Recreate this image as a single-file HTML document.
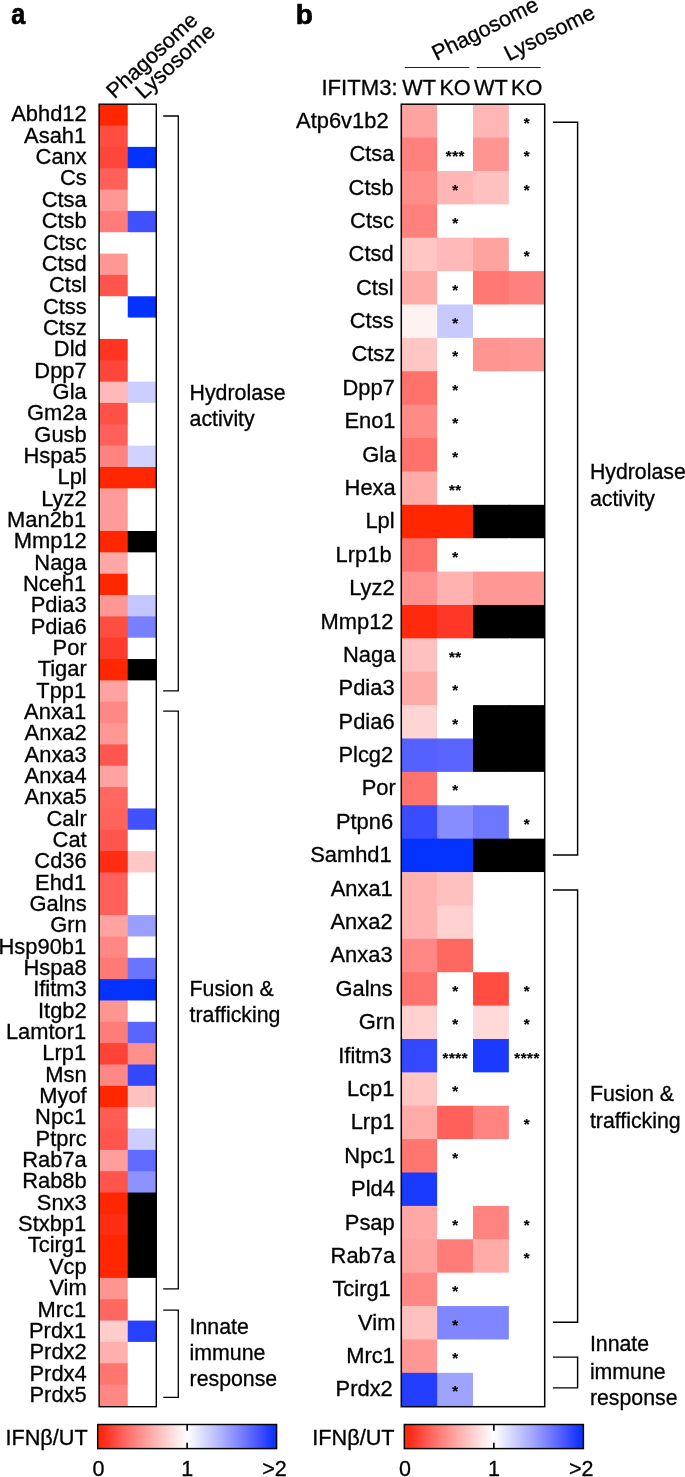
<!DOCTYPE html>
<html><head><meta charset="utf-8"><title>Figure</title>
<style>html,body{margin:0;padding:0;background:#fff}svg{display:block}text{font-family:"Liberation Sans",Arial,Helvetica,sans-serif;fill:#000;stroke:#000;stroke-width:0.3px}.l{font-size:21.1px}.r{font-size:21.9px;text-anchor:end}.s{font-size:15px;font-weight:bold;text-anchor:middle;letter-spacing:0.6px;stroke-width:0.2px}.p{font-size:28px;font-weight:bold;stroke-width:0.7px}.m{font-size:21.5px;text-anchor:middle}.k{stroke:#000;stroke-width:1.3;fill:none}</style></head><body>
<svg width="685" height="1477" viewBox="0 0 685 1477">
<defs><linearGradient id="g" x1="0" x2="1" y1="0" y2="0">
<stop offset="0.0000" stop-color="#ff2600"/>
<stop offset="0.0208" stop-color="#ff290b"/>
<stop offset="0.0417" stop-color="#ff311c"/>
<stop offset="0.0625" stop-color="#ff3a2b"/>
<stop offset="0.0833" stop-color="#ff4438"/>
<stop offset="0.1042" stop-color="#ff4f45"/>
<stop offset="0.1250" stop-color="#ff5951"/>
<stop offset="0.1458" stop-color="#ff645d"/>
<stop offset="0.1667" stop-color="#ff6e68"/>
<stop offset="0.1875" stop-color="#ff7873"/>
<stop offset="0.2083" stop-color="#ff827d"/>
<stop offset="0.2292" stop-color="#ff8b88"/>
<stop offset="0.2500" stop-color="#ff9592"/>
<stop offset="0.2708" stop-color="#ff9f9c"/>
<stop offset="0.2917" stop-color="#ffa8a6"/>
<stop offset="0.3125" stop-color="#ffb1af"/>
<stop offset="0.3333" stop-color="#ffbab8"/>
<stop offset="0.3542" stop-color="#ffc3c2"/>
<stop offset="0.3750" stop-color="#ffcccb"/>
<stop offset="0.3958" stop-color="#ffd5d4"/>
<stop offset="0.4167" stop-color="#ffdddd"/>
<stop offset="0.4375" stop-color="#ffe6e5"/>
<stop offset="0.4583" stop-color="#ffeeee"/>
<stop offset="0.4792" stop-color="#fff7f7"/>
<stop offset="0.5000" stop-color="#ffffff"/>
<stop offset="0.5208" stop-color="#f7f7ff"/>
<stop offset="0.5417" stop-color="#eeefff"/>
<stop offset="0.5625" stop-color="#e5e6ff"/>
<stop offset="0.5833" stop-color="#dddeff"/>
<stop offset="0.6042" stop-color="#d4d5ff"/>
<stop offset="0.6250" stop-color="#cbcdff"/>
<stop offset="0.6458" stop-color="#c2c4ff"/>
<stop offset="0.6667" stop-color="#b9bbff"/>
<stop offset="0.6875" stop-color="#afb3ff"/>
<stop offset="0.7083" stop-color="#a6aaff"/>
<stop offset="0.7292" stop-color="#9ca0ff"/>
<stop offset="0.7500" stop-color="#9297ff"/>
<stop offset="0.7708" stop-color="#888eff"/>
<stop offset="0.7917" stop-color="#7e85ff"/>
<stop offset="0.8125" stop-color="#737bff"/>
<stop offset="0.8333" stop-color="#6872ff"/>
<stop offset="0.8542" stop-color="#5d68ff"/>
<stop offset="0.8750" stop-color="#525eff"/>
<stop offset="0.8958" stop-color="#4655ff"/>
<stop offset="0.9167" stop-color="#394cff"/>
<stop offset="0.9375" stop-color="#2c43ff"/>
<stop offset="0.9583" stop-color="#1d3bff"/>
<stop offset="0.9792" stop-color="#0e36ff"/>
<stop offset="1.0000" stop-color="#0433ff"/>
</linearGradient></defs>
<rect width="685" height="1477" fill="#fff"/>
<text class="p" transform="translate(11.2,23.6) scale(0.9,1.03)">a</text>
<rect x="99.10" y="104.20" width="29.65" height="22.34" fill="#ff2600"/>
<rect x="127.75" y="104.20" width="28.55" height="22.34" fill="#ffffff"/>
<rect x="99.10" y="125.54" width="29.65" height="22.34" fill="#ff4d42"/>
<rect x="127.75" y="125.54" width="28.55" height="22.34" fill="#ffffff"/>
<rect x="99.10" y="146.88" width="29.65" height="22.34" fill="#ff463b"/>
<rect x="127.75" y="146.88" width="28.55" height="22.34" fill="#0433ff"/>
<rect x="99.10" y="168.22" width="29.65" height="22.34" fill="#ff6059"/>
<rect x="127.75" y="168.22" width="28.55" height="22.34" fill="#ffffff"/>
<rect x="99.10" y="189.56" width="29.65" height="22.34" fill="#ff9794"/>
<rect x="127.75" y="189.56" width="28.55" height="22.34" fill="#ffffff"/>
<rect x="99.10" y="210.90" width="29.65" height="22.34" fill="#ff7c78"/>
<rect x="127.75" y="210.90" width="28.55" height="22.34" fill="#4051ff"/>
<rect x="99.10" y="232.24" width="29.65" height="22.34" fill="#ffffff"/>
<rect x="127.75" y="232.24" width="28.55" height="22.34" fill="#ffffff"/>
<rect x="99.10" y="253.58" width="29.65" height="22.34" fill="#ff9794"/>
<rect x="127.75" y="253.58" width="28.55" height="22.34" fill="#ffffff"/>
<rect x="99.10" y="274.92" width="29.65" height="22.34" fill="#ff554c"/>
<rect x="127.75" y="274.92" width="28.55" height="22.34" fill="#ffffff"/>
<rect x="99.10" y="296.26" width="29.65" height="22.34" fill="#ffffff"/>
<rect x="127.75" y="296.26" width="28.55" height="22.34" fill="#0433ff"/>
<rect x="99.10" y="317.60" width="29.65" height="22.34" fill="#ffffff"/>
<rect x="127.75" y="317.60" width="28.55" height="22.34" fill="#ffffff"/>
<rect x="99.10" y="338.94" width="29.65" height="22.34" fill="#ff3421"/>
<rect x="127.75" y="338.94" width="28.55" height="22.34" fill="#ffffff"/>
<rect x="99.10" y="360.28" width="29.65" height="22.34" fill="#ff463b"/>
<rect x="127.75" y="360.28" width="28.55" height="22.34" fill="#ffffff"/>
<rect x="99.10" y="381.62" width="29.65" height="22.34" fill="#ffb9b8"/>
<rect x="127.75" y="381.62" width="28.55" height="22.34" fill="#ccceff"/>
<rect x="99.10" y="402.96" width="29.65" height="22.34" fill="#ff5147"/>
<rect x="127.75" y="402.96" width="28.55" height="22.34" fill="#ffffff"/>
<rect x="99.10" y="424.30" width="29.65" height="22.34" fill="#ff6059"/>
<rect x="127.75" y="424.30" width="28.55" height="22.34" fill="#ffffff"/>
<rect x="99.10" y="445.64" width="29.65" height="22.34" fill="#ff8480"/>
<rect x="127.75" y="445.64" width="28.55" height="22.34" fill="#d1d3ff"/>
<rect x="99.10" y="466.98" width="29.65" height="22.34" fill="#ff2600"/>
<rect x="127.75" y="466.98" width="28.55" height="22.34" fill="#ff2600"/>
<rect x="99.10" y="488.32" width="29.65" height="22.34" fill="#ff9c99"/>
<rect x="127.75" y="488.32" width="28.55" height="22.34" fill="#ffffff"/>
<rect x="99.10" y="509.66" width="29.65" height="22.34" fill="#ff9c99"/>
<rect x="127.75" y="509.66" width="28.55" height="22.34" fill="#ffffff"/>
<rect x="99.10" y="531.00" width="29.65" height="22.34" fill="#ff2600"/>
<rect x="127.75" y="531.00" width="28.55" height="22.34" fill="#000000"/>
<rect x="99.10" y="552.34" width="29.65" height="22.34" fill="#ffa8a6"/>
<rect x="127.75" y="552.34" width="28.55" height="22.34" fill="#ffffff"/>
<rect x="99.10" y="573.68" width="29.65" height="22.34" fill="#ff2600"/>
<rect x="127.75" y="573.68" width="28.55" height="22.34" fill="#ffffff"/>
<rect x="99.10" y="595.02" width="29.65" height="22.34" fill="#ff9794"/>
<rect x="127.75" y="595.02" width="28.55" height="22.34" fill="#c4c7ff"/>
<rect x="99.10" y="616.36" width="29.65" height="22.34" fill="#ff4d42"/>
<rect x="127.75" y="616.36" width="28.55" height="22.34" fill="#7880ff"/>
<rect x="99.10" y="637.70" width="29.65" height="22.34" fill="#ff3b2b"/>
<rect x="127.75" y="637.70" width="28.55" height="22.34" fill="#ffffff"/>
<rect x="99.10" y="659.04" width="29.65" height="22.34" fill="#ff2600"/>
<rect x="127.75" y="659.04" width="28.55" height="22.34" fill="#000000"/>
<rect x="99.10" y="680.38" width="29.65" height="22.34" fill="#ffa3a1"/>
<rect x="127.75" y="680.38" width="28.55" height="22.34" fill="#ffffff"/>
<rect x="99.10" y="701.72" width="29.65" height="22.34" fill="#ff8885"/>
<rect x="127.75" y="701.72" width="28.55" height="22.34" fill="#ffffff"/>
<rect x="99.10" y="723.06" width="29.65" height="22.34" fill="#ff9794"/>
<rect x="127.75" y="723.06" width="28.55" height="22.34" fill="#ffffff"/>
<rect x="99.10" y="744.40" width="29.65" height="22.34" fill="#ff574f"/>
<rect x="127.75" y="744.40" width="28.55" height="22.34" fill="#ffffff"/>
<rect x="99.10" y="765.74" width="29.65" height="22.34" fill="#ffa3a1"/>
<rect x="127.75" y="765.74" width="28.55" height="22.34" fill="#ffffff"/>
<rect x="99.10" y="787.08" width="29.65" height="22.34" fill="#ff6761"/>
<rect x="127.75" y="787.08" width="28.55" height="22.34" fill="#ffffff"/>
<rect x="99.10" y="808.42" width="29.65" height="22.34" fill="#ff635c"/>
<rect x="127.75" y="808.42" width="28.55" height="22.34" fill="#4051ff"/>
<rect x="99.10" y="829.76" width="29.65" height="22.34" fill="#ff554c"/>
<rect x="127.75" y="829.76" width="28.55" height="22.34" fill="#ffffff"/>
<rect x="99.10" y="851.10" width="29.65" height="22.34" fill="#ff2d14"/>
<rect x="127.75" y="851.10" width="28.55" height="22.34" fill="#ffc8c7"/>
<rect x="99.10" y="872.44" width="29.65" height="22.34" fill="#ff6059"/>
<rect x="127.75" y="872.44" width="28.55" height="22.34" fill="#ffffff"/>
<rect x="99.10" y="893.78" width="29.65" height="22.34" fill="#ff6059"/>
<rect x="127.75" y="893.78" width="28.55" height="22.34" fill="#ffffff"/>
<rect x="99.10" y="915.12" width="29.65" height="22.34" fill="#ffa3a1"/>
<rect x="127.75" y="915.12" width="28.55" height="22.34" fill="#999eff"/>
<rect x="99.10" y="936.46" width="29.65" height="22.34" fill="#ff8885"/>
<rect x="127.75" y="936.46" width="28.55" height="22.34" fill="#ffffff"/>
<rect x="99.10" y="957.80" width="29.65" height="22.34" fill="#ff7a75"/>
<rect x="127.75" y="957.80" width="28.55" height="22.34" fill="#6b74ff"/>
<rect x="99.10" y="979.14" width="29.65" height="22.34" fill="#0433ff"/>
<rect x="127.75" y="979.14" width="28.55" height="22.34" fill="#0433ff"/>
<rect x="99.10" y="1000.48" width="29.65" height="22.34" fill="#ff9591"/>
<rect x="127.75" y="1000.48" width="28.55" height="22.34" fill="#ffffff"/>
<rect x="99.10" y="1021.82" width="29.65" height="22.34" fill="#ff7c78"/>
<rect x="127.75" y="1021.82" width="28.55" height="22.34" fill="#5a65ff"/>
<rect x="99.10" y="1043.16" width="29.65" height="22.34" fill="#ff4236"/>
<rect x="127.75" y="1043.16" width="28.55" height="22.34" fill="#ff908c"/>
<rect x="99.10" y="1064.50" width="29.65" height="22.34" fill="#ff8885"/>
<rect x="127.75" y="1064.50" width="28.55" height="22.34" fill="#3448ff"/>
<rect x="99.10" y="1085.84" width="29.65" height="22.34" fill="#ff2600"/>
<rect x="127.75" y="1085.84" width="28.55" height="22.34" fill="#ffc1bf"/>
<rect x="99.10" y="1107.18" width="29.65" height="22.34" fill="#ff5c54"/>
<rect x="127.75" y="1107.18" width="28.55" height="22.34" fill="#ffffff"/>
<rect x="99.10" y="1128.52" width="29.65" height="22.34" fill="#ff554c"/>
<rect x="127.75" y="1128.52" width="28.55" height="22.34" fill="#ccceff"/>
<rect x="99.10" y="1149.86" width="29.65" height="22.34" fill="#ff9e9c"/>
<rect x="127.75" y="1149.86" width="28.55" height="22.34" fill="#616bff"/>
<rect x="99.10" y="1171.20" width="29.65" height="22.34" fill="#ff554c"/>
<rect x="127.75" y="1171.20" width="28.55" height="22.34" fill="#8c92ff"/>
<rect x="99.10" y="1192.54" width="29.65" height="22.34" fill="#ff2600"/>
<rect x="127.75" y="1192.54" width="28.55" height="22.34" fill="#000000"/>
<rect x="99.10" y="1213.88" width="29.65" height="22.34" fill="#ff2d14"/>
<rect x="127.75" y="1213.88" width="28.55" height="22.34" fill="#000000"/>
<rect x="99.10" y="1235.22" width="29.65" height="22.34" fill="#ff2600"/>
<rect x="127.75" y="1235.22" width="28.55" height="22.34" fill="#000000"/>
<rect x="99.10" y="1256.56" width="29.65" height="22.34" fill="#ff2600"/>
<rect x="127.75" y="1256.56" width="28.55" height="22.34" fill="#000000"/>
<rect x="99.10" y="1277.90" width="29.65" height="22.34" fill="#ff9591"/>
<rect x="127.75" y="1277.90" width="28.55" height="22.34" fill="#ffffff"/>
<rect x="99.10" y="1299.24" width="29.65" height="22.34" fill="#ff6761"/>
<rect x="127.75" y="1299.24" width="28.55" height="22.34" fill="#ffffff"/>
<rect x="99.10" y="1320.58" width="29.65" height="22.34" fill="#ffcdcc"/>
<rect x="127.75" y="1320.58" width="28.55" height="22.34" fill="#2841ff"/>
<rect x="99.10" y="1341.92" width="29.65" height="22.34" fill="#ffafad"/>
<rect x="127.75" y="1341.92" width="28.55" height="22.34" fill="#ffffff"/>
<rect x="99.10" y="1363.26" width="29.65" height="22.34" fill="#ff7570"/>
<rect x="127.75" y="1363.26" width="28.55" height="22.34" fill="#ffffff"/>
<rect x="99.10" y="1384.60" width="29.65" height="22.10" fill="#ff8885"/>
<rect x="127.75" y="1384.60" width="28.55" height="22.10" fill="#ffffff"/>
<rect class="k" style="stroke-width:1.4" x="99.10" y="104.20" width="57.20" height="1302.50"/>
<text class="r" x="86.7" y="121.47">Abhd12</text>
<text class="r" x="86.2" y="142.81">Asah1</text>
<text class="r" x="86.7" y="164.15">Canx</text>
<text class="r" x="86.7" y="185.49">Cs</text>
<text class="r" x="86.7" y="206.83">Ctsa</text>
<text class="r" x="86.7" y="228.17">Ctsb</text>
<text class="r" x="86.7" y="249.51">Ctsc</text>
<text class="r" x="86.7" y="270.85">Ctsd</text>
<text class="r" x="86.7" y="292.19">Ctsl</text>
<text class="r" x="86.7" y="313.53">Ctss</text>
<text class="r" x="86.7" y="334.87">Ctsz</text>
<text class="r" x="86.7" y="356.21">Dld</text>
<text class="r" x="86.7" y="377.55">Dpp7</text>
<text class="r" x="86.7" y="398.89">Gla</text>
<text class="r" x="86.7" y="420.23">Gm2a</text>
<text class="r" x="86.7" y="441.57">Gusb</text>
<text class="r" x="86.7" y="462.91">Hspa5</text>
<text class="r" x="86.7" y="484.25">Lpl</text>
<text class="r" x="86.7" y="505.59">Lyz2</text>
<text class="r" x="86.2" y="526.93">Man2b1</text>
<text class="r" x="86.7" y="548.27">Mmp12</text>
<text class="r" x="86.7" y="569.61">Naga</text>
<text class="r" x="86.2" y="590.95">Nceh1</text>
<text class="r" x="86.7" y="612.29">Pdia3</text>
<text class="r" x="86.7" y="633.63">Pdia6</text>
<text class="r" x="86.7" y="654.97">Por</text>
<text class="r" x="86.7" y="676.31">Tigar</text>
<text class="r" x="86.2" y="697.65">Tpp1</text>
<text class="r" x="86.2" y="718.99">Anxa1</text>
<text class="r" x="86.7" y="740.33">Anxa2</text>
<text class="r" x="86.7" y="761.67">Anxa3</text>
<text class="r" x="86.7" y="783.01">Anxa4</text>
<text class="r" x="86.7" y="804.35">Anxa5</text>
<text class="r" x="86.7" y="825.69">Calr</text>
<text class="r" x="86.7" y="847.03">Cat</text>
<text class="r" x="86.7" y="868.37">Cd36</text>
<text class="r" x="86.2" y="889.71">Ehd1</text>
<text class="r" x="86.7" y="911.05">Galns</text>
<text class="r" x="86.7" y="932.39">Grn</text>
<text class="r" x="86.2" y="953.73">Hsp90b1</text>
<text class="r" x="86.7" y="975.07">Hspa8</text>
<text class="r" x="86.7" y="996.41">Ifitm3</text>
<text class="r" x="86.7" y="1017.75">Itgb2</text>
<text class="r" x="86.2" y="1039.09">Lamtor1</text>
<text class="r" x="86.2" y="1060.43">Lrp1</text>
<text class="r" x="86.7" y="1081.77">Msn</text>
<text class="r" x="86.7" y="1103.11">Myof</text>
<text class="r" x="86.2" y="1124.45">Npc1</text>
<text class="r" x="86.7" y="1145.79">Ptprc</text>
<text class="r" x="86.7" y="1167.13">Rab7a</text>
<text class="r" x="86.7" y="1188.47">Rab8b</text>
<text class="r" x="86.7" y="1209.81">Snx3</text>
<text class="r" x="86.2" y="1231.15">Stxbp1</text>
<text class="r" x="86.2" y="1252.49">Tcirg1</text>
<text class="r" x="86.7" y="1273.83">Vcp</text>
<text class="r" x="86.7" y="1295.17">Vim</text>
<text class="r" x="86.2" y="1316.51">Mrc1</text>
<text class="r" x="86.2" y="1337.85">Prdx1</text>
<text class="r" x="86.7" y="1359.19">Prdx2</text>
<text class="r" x="86.7" y="1380.53">Prdx4</text>
<text class="r" x="86.7" y="1401.87">Prdx5</text>
<path class="k" style="stroke-width:1.3" d="M163.20 116.00H178.30V690.90H163.20"/>
<path class="k" style="stroke-width:1.3" d="M163.20 711.10H178.30V1288.90H163.20"/>
<path class="k" style="stroke-width:1.3" d="M163.20 1310.10H178.30V1397.40H163.20"/>
<text class="l" style="font-size:21.5px" transform="translate(114.5,99.5) rotate(-42.5)">Phagosome</text>
<text class="l" style="font-size:21.9px" transform="translate(143.5,100) rotate(-42.5)">Lysosome</text>
<text class="l" style="font-size:21.3px" x="189.6" y="399.9">Hydrolase</text>
<text class="l" style="font-size:21.3px" x="189.6" y="425.7">activity</text>
<text class="l" style="font-size:21.3px" x="189.6" y="995.7">Fusion &amp;</text>
<text class="l" style="font-size:21.3px" x="189.6" y="1021.5">trafficking</text>
<text class="l" style="font-size:21.3px" x="189.6" y="1334.4">Innate</text>
<text class="l" style="font-size:21.3px" x="189.6" y="1360.0">immune</text>
<text class="l" style="font-size:21.3px" x="189.6" y="1385.7">response</text>
<rect x="97.70" y="1424.5" width="178.90" height="24.1" fill="url(#g)"/>
<rect class="k" style="stroke-width:1.45" x="97.70" y="1424.5" width="178.90" height="24.1"/>
<path d="M187.15 1424.5V1430.7M187.15 1442.7V1448.6" stroke="#000" stroke-width="1.6" fill="none"/>
<text class="r" style="font-size:21.7px" x="87.8" y="1444.7">IFNβ/UT</text>
<text class="m" x="98.5" y="1475.6">0</text>
<text class="m" x="187.2" y="1475.6">1</text>
<text class="m" x="274.4" y="1475.6">&gt;2</text>
<text class="p" x="295.8" y="23.6">b</text>
<rect x="401.30" y="104.20" width="36.85" height="34.38" fill="#ffa3a1"/>
<rect x="437.15" y="104.20" width="36.85" height="34.38" fill="#ffffff"/>
<rect x="473.00" y="104.20" width="36.85" height="34.38" fill="#ffb7b5"/>
<rect x="508.85" y="104.20" width="35.85" height="34.38" fill="#ffffff"/>
<rect x="401.30" y="137.59" width="36.85" height="34.38" fill="#ff817d"/>
<rect x="437.15" y="137.59" width="36.85" height="34.38" fill="#ffffff"/>
<rect x="473.00" y="137.59" width="36.85" height="34.38" fill="#ff9591"/>
<rect x="508.85" y="137.59" width="35.85" height="34.38" fill="#ffffff"/>
<rect x="401.30" y="170.97" width="36.85" height="34.38" fill="#ff8d8a"/>
<rect x="437.15" y="170.97" width="36.85" height="34.38" fill="#ffb7b5"/>
<rect x="473.00" y="170.97" width="36.85" height="34.38" fill="#ffc1bf"/>
<rect x="508.85" y="170.97" width="35.85" height="34.38" fill="#ffffff"/>
<rect x="401.30" y="204.36" width="36.85" height="34.38" fill="#ff817d"/>
<rect x="437.15" y="204.36" width="36.85" height="34.38" fill="#ffffff"/>
<rect x="473.00" y="204.36" width="36.85" height="34.38" fill="#ffffff"/>
<rect x="508.85" y="204.36" width="35.85" height="34.38" fill="#ffffff"/>
<rect x="401.30" y="237.74" width="36.85" height="34.38" fill="#ffc6c4"/>
<rect x="437.15" y="237.74" width="36.85" height="34.38" fill="#ffb9b8"/>
<rect x="473.00" y="237.74" width="36.85" height="34.38" fill="#ffa3a1"/>
<rect x="508.85" y="237.74" width="35.85" height="34.38" fill="#ffffff"/>
<rect x="401.30" y="271.12" width="36.85" height="34.38" fill="#ffaba8"/>
<rect x="437.15" y="271.12" width="36.85" height="34.38" fill="#ffffff"/>
<rect x="473.00" y="271.12" width="36.85" height="34.38" fill="#ff7873"/>
<rect x="508.85" y="271.12" width="35.85" height="34.38" fill="#ff817d"/>
<rect x="401.30" y="304.51" width="36.85" height="34.38" fill="#fff3f2"/>
<rect x="437.15" y="304.51" width="36.85" height="34.38" fill="#c7c9ff"/>
<rect x="473.00" y="304.51" width="36.85" height="34.38" fill="#ffffff"/>
<rect x="508.85" y="304.51" width="35.85" height="34.38" fill="#ffffff"/>
<rect x="401.30" y="337.89" width="36.85" height="34.38" fill="#ffc6c4"/>
<rect x="437.15" y="337.89" width="36.85" height="34.38" fill="#ffffff"/>
<rect x="473.00" y="337.89" width="36.85" height="34.38" fill="#ff9591"/>
<rect x="508.85" y="337.89" width="35.85" height="34.38" fill="#ff9794"/>
<rect x="401.30" y="371.28" width="36.85" height="34.38" fill="#ff716b"/>
<rect x="437.15" y="371.28" width="36.85" height="34.38" fill="#ffffff"/>
<rect x="473.00" y="371.28" width="36.85" height="34.38" fill="#ffffff"/>
<rect x="508.85" y="371.28" width="35.85" height="34.38" fill="#ffffff"/>
<rect x="401.30" y="404.66" width="36.85" height="34.38" fill="#ff8b87"/>
<rect x="437.15" y="404.66" width="36.85" height="34.38" fill="#ffffff"/>
<rect x="473.00" y="404.66" width="36.85" height="34.38" fill="#ffffff"/>
<rect x="508.85" y="404.66" width="35.85" height="34.38" fill="#ffffff"/>
<rect x="401.30" y="438.05" width="36.85" height="34.38" fill="#ff716b"/>
<rect x="437.15" y="438.05" width="36.85" height="34.38" fill="#ffffff"/>
<rect x="473.00" y="438.05" width="36.85" height="34.38" fill="#ffffff"/>
<rect x="508.85" y="438.05" width="35.85" height="34.38" fill="#ffffff"/>
<rect x="401.30" y="471.43" width="36.85" height="34.38" fill="#ffaba8"/>
<rect x="437.15" y="471.43" width="36.85" height="34.38" fill="#ffffff"/>
<rect x="473.00" y="471.43" width="36.85" height="34.38" fill="#ffffff"/>
<rect x="508.85" y="471.43" width="35.85" height="34.38" fill="#ffffff"/>
<rect x="401.30" y="504.82" width="36.85" height="34.38" fill="#ff2600"/>
<rect x="437.15" y="504.82" width="36.85" height="34.38" fill="#ff2600"/>
<rect x="473.00" y="504.82" width="36.85" height="34.38" fill="#000000"/>
<rect x="508.85" y="504.82" width="35.85" height="34.38" fill="#000000"/>
<rect x="401.30" y="538.21" width="36.85" height="34.38" fill="#ff716b"/>
<rect x="437.15" y="538.21" width="36.85" height="34.38" fill="#ffffff"/>
<rect x="473.00" y="538.21" width="36.85" height="34.38" fill="#ffffff"/>
<rect x="508.85" y="538.21" width="35.85" height="34.38" fill="#ffffff"/>
<rect x="401.30" y="571.59" width="36.85" height="34.38" fill="#ff928f"/>
<rect x="437.15" y="571.59" width="36.85" height="34.38" fill="#ffb2b0"/>
<rect x="473.00" y="571.59" width="36.85" height="34.38" fill="#ff9794"/>
<rect x="508.85" y="571.59" width="35.85" height="34.38" fill="#ff9794"/>
<rect x="401.30" y="604.98" width="36.85" height="34.38" fill="#ff2a0d"/>
<rect x="437.15" y="604.98" width="36.85" height="34.38" fill="#ff3726"/>
<rect x="473.00" y="604.98" width="36.85" height="34.38" fill="#000000"/>
<rect x="508.85" y="604.98" width="35.85" height="34.38" fill="#000000"/>
<rect x="401.30" y="638.36" width="36.85" height="34.38" fill="#ffc1bf"/>
<rect x="437.15" y="638.36" width="36.85" height="34.38" fill="#ffffff"/>
<rect x="473.00" y="638.36" width="36.85" height="34.38" fill="#ffffff"/>
<rect x="508.85" y="638.36" width="35.85" height="34.38" fill="#ffffff"/>
<rect x="401.30" y="671.75" width="36.85" height="34.38" fill="#ffaba8"/>
<rect x="437.15" y="671.75" width="36.85" height="34.38" fill="#ffffff"/>
<rect x="473.00" y="671.75" width="36.85" height="34.38" fill="#ffffff"/>
<rect x="508.85" y="671.75" width="35.85" height="34.38" fill="#ffffff"/>
<rect x="401.30" y="705.13" width="36.85" height="34.38" fill="#ffd5d4"/>
<rect x="437.15" y="705.13" width="36.85" height="34.38" fill="#ffffff"/>
<rect x="473.00" y="705.13" width="36.85" height="34.38" fill="#000000"/>
<rect x="508.85" y="705.13" width="35.85" height="34.38" fill="#000000"/>
<rect x="401.30" y="738.51" width="36.85" height="34.38" fill="#5561ff"/>
<rect x="437.15" y="738.51" width="36.85" height="34.38" fill="#5a65ff"/>
<rect x="473.00" y="738.51" width="36.85" height="34.38" fill="#000000"/>
<rect x="508.85" y="738.51" width="35.85" height="34.38" fill="#000000"/>
<rect x="401.30" y="771.90" width="36.85" height="34.38" fill="#ff736e"/>
<rect x="437.15" y="771.90" width="36.85" height="34.38" fill="#ffffff"/>
<rect x="473.00" y="771.90" width="36.85" height="34.38" fill="#ffffff"/>
<rect x="508.85" y="771.90" width="35.85" height="34.38" fill="#ffffff"/>
<rect x="401.30" y="805.28" width="36.85" height="34.38" fill="#394cff"/>
<rect x="437.15" y="805.28" width="36.85" height="34.38" fill="#878dff"/>
<rect x="473.00" y="805.28" width="36.85" height="34.38" fill="#6e77ff"/>
<rect x="508.85" y="805.28" width="35.85" height="34.38" fill="#ffffff"/>
<rect x="401.30" y="838.67" width="36.85" height="34.38" fill="#0433ff"/>
<rect x="437.15" y="838.67" width="36.85" height="34.38" fill="#0433ff"/>
<rect x="473.00" y="838.67" width="36.85" height="34.38" fill="#000000"/>
<rect x="508.85" y="838.67" width="35.85" height="34.38" fill="#000000"/>
<rect x="401.30" y="872.05" width="36.85" height="34.38" fill="#ffb2b0"/>
<rect x="437.15" y="872.05" width="36.85" height="34.38" fill="#ffc1bf"/>
<rect x="473.00" y="872.05" width="36.85" height="34.38" fill="#ffffff"/>
<rect x="508.85" y="872.05" width="35.85" height="34.38" fill="#ffffff"/>
<rect x="401.30" y="905.44" width="36.85" height="34.38" fill="#ffb2b0"/>
<rect x="437.15" y="905.44" width="36.85" height="34.38" fill="#ffd2d1"/>
<rect x="473.00" y="905.44" width="36.85" height="34.38" fill="#ffffff"/>
<rect x="508.85" y="905.44" width="35.85" height="34.38" fill="#ffffff"/>
<rect x="401.30" y="938.83" width="36.85" height="34.38" fill="#ff8885"/>
<rect x="437.15" y="938.83" width="36.85" height="34.38" fill="#ff6761"/>
<rect x="473.00" y="938.83" width="36.85" height="34.38" fill="#ffffff"/>
<rect x="508.85" y="938.83" width="35.85" height="34.38" fill="#ffffff"/>
<rect x="401.30" y="972.21" width="36.85" height="34.38" fill="#ff736e"/>
<rect x="437.15" y="972.21" width="36.85" height="34.38" fill="#ffffff"/>
<rect x="473.00" y="972.21" width="36.85" height="34.38" fill="#ff4d42"/>
<rect x="508.85" y="972.21" width="35.85" height="34.38" fill="#ffffff"/>
<rect x="401.30" y="1005.60" width="36.85" height="34.38" fill="#ffd2d1"/>
<rect x="437.15" y="1005.60" width="36.85" height="34.38" fill="#ffffff"/>
<rect x="473.00" y="1005.60" width="36.85" height="34.38" fill="#ffdad9"/>
<rect x="508.85" y="1005.60" width="35.85" height="34.38" fill="#ffffff"/>
<rect x="401.30" y="1038.98" width="36.85" height="34.38" fill="#3448ff"/>
<rect x="437.15" y="1038.98" width="36.85" height="34.38" fill="#ffffff"/>
<rect x="473.00" y="1038.98" width="36.85" height="34.38" fill="#1b3aff"/>
<rect x="508.85" y="1038.98" width="35.85" height="34.38" fill="#ffffff"/>
<rect x="401.30" y="1072.37" width="36.85" height="34.38" fill="#ffc6c4"/>
<rect x="437.15" y="1072.37" width="36.85" height="34.38" fill="#ffffff"/>
<rect x="473.00" y="1072.37" width="36.85" height="34.38" fill="#ffffff"/>
<rect x="508.85" y="1072.37" width="35.85" height="34.38" fill="#ffffff"/>
<rect x="401.30" y="1105.75" width="36.85" height="34.38" fill="#ffaba8"/>
<rect x="437.15" y="1105.75" width="36.85" height="34.38" fill="#ff6059"/>
<rect x="473.00" y="1105.75" width="36.85" height="34.38" fill="#ff8480"/>
<rect x="508.85" y="1105.75" width="35.85" height="34.38" fill="#ffffff"/>
<rect x="401.30" y="1139.13" width="36.85" height="34.38" fill="#ff7570"/>
<rect x="437.15" y="1139.13" width="36.85" height="34.38" fill="#ffffff"/>
<rect x="473.00" y="1139.13" width="36.85" height="34.38" fill="#ffffff"/>
<rect x="508.85" y="1139.13" width="35.85" height="34.38" fill="#ffffff"/>
<rect x="401.30" y="1172.52" width="36.85" height="34.38" fill="#1b3aff"/>
<rect x="437.15" y="1172.52" width="36.85" height="34.38" fill="#ffffff"/>
<rect x="473.00" y="1172.52" width="36.85" height="34.38" fill="#ffffff"/>
<rect x="508.85" y="1172.52" width="35.85" height="34.38" fill="#ffffff"/>
<rect x="401.30" y="1205.90" width="36.85" height="34.38" fill="#ffa8a6"/>
<rect x="437.15" y="1205.90" width="36.85" height="34.38" fill="#ffffff"/>
<rect x="473.00" y="1205.90" width="36.85" height="34.38" fill="#ff8480"/>
<rect x="508.85" y="1205.90" width="35.85" height="34.38" fill="#ffffff"/>
<rect x="401.30" y="1239.29" width="36.85" height="34.38" fill="#ffa3a1"/>
<rect x="437.15" y="1239.29" width="36.85" height="34.38" fill="#ff7c78"/>
<rect x="473.00" y="1239.29" width="36.85" height="34.38" fill="#ffaba8"/>
<rect x="508.85" y="1239.29" width="35.85" height="34.38" fill="#ffffff"/>
<rect x="401.30" y="1272.67" width="36.85" height="34.38" fill="#ff8885"/>
<rect x="437.15" y="1272.67" width="36.85" height="34.38" fill="#ffffff"/>
<rect x="473.00" y="1272.67" width="36.85" height="34.38" fill="#ffffff"/>
<rect x="508.85" y="1272.67" width="35.85" height="34.38" fill="#ffffff"/>
<rect x="401.30" y="1306.06" width="36.85" height="34.38" fill="#ffc1bf"/>
<rect x="437.15" y="1306.06" width="36.85" height="34.38" fill="#8086ff"/>
<rect x="473.00" y="1306.06" width="36.85" height="34.38" fill="#8086ff"/>
<rect x="508.85" y="1306.06" width="35.85" height="34.38" fill="#ffffff"/>
<rect x="401.30" y="1339.44" width="36.85" height="34.38" fill="#ff9794"/>
<rect x="437.15" y="1339.44" width="36.85" height="34.38" fill="#ffffff"/>
<rect x="473.00" y="1339.44" width="36.85" height="34.38" fill="#ffffff"/>
<rect x="508.85" y="1339.44" width="35.85" height="34.38" fill="#ffffff"/>
<rect x="401.30" y="1372.83" width="36.85" height="33.87" fill="#233eff"/>
<rect x="437.15" y="1372.83" width="36.85" height="33.87" fill="#9ea3ff"/>
<rect x="473.00" y="1372.83" width="36.85" height="33.87" fill="#ffffff"/>
<rect x="508.85" y="1372.83" width="35.85" height="33.87" fill="#ffffff"/>
<rect class="k" style="stroke-width:1.5" x="401.30" y="104.20" width="143.40" height="1302.50"/>
<text class="r" x="388.6" y="128.49">Atp6v1b2</text>
<text class="s" x="527.08" y="127.79">*</text>
<text class="r" x="394.4" y="161.18">Ctsa</text>
<text class="s" x="455.38" y="161.18">***</text>
<text class="s" x="527.08" y="161.18">*</text>
<text class="r" x="393.6" y="194.56">Ctsb</text>
<text class="s" x="455.38" y="194.56">*</text>
<text class="s" x="527.08" y="194.56">*</text>
<text class="r" x="393.9" y="227.95">Ctsc</text>
<text class="s" x="455.38" y="227.95">*</text>
<text class="r" x="393.6" y="261.33">Ctsd</text>
<text class="s" x="527.08" y="261.33">*</text>
<text class="r" x="393.6" y="294.72">Ctsl</text>
<text class="s" x="455.38" y="294.72">*</text>
<text class="r" x="393.6" y="328.10">Ctss</text>
<text class="s" x="455.38" y="328.10">*</text>
<text class="r" x="395.2" y="361.49">Ctsz</text>
<text class="s" x="455.38" y="361.49">*</text>
<text class="r" x="394.8" y="394.87">Dpp7</text>
<text class="s" x="455.38" y="394.87">*</text>
<text class="r" x="395.5" y="428.26">Eno1</text>
<text class="s" x="455.38" y="428.26">*</text>
<text class="r" x="396.3" y="461.64">Gla</text>
<text class="s" x="455.38" y="461.64">*</text>
<text class="r" x="395.7" y="495.03">Hexa</text>
<text class="s" x="455.38" y="495.03">**</text>
<text class="r" x="394.6" y="528.41">Lpl</text>
<text class="r" x="391.6" y="561.80">Lrp1b</text>
<text class="s" x="455.38" y="561.80">*</text>
<text class="r" x="394.7" y="595.18">Lyz2</text>
<text class="r" x="393.5" y="628.57">Mmp12</text>
<text class="r" x="395.4" y="661.95">Naga</text>
<text class="s" x="455.38" y="661.95">**</text>
<text class="r" x="394.6" y="695.34">Pdia3</text>
<text class="s" x="455.38" y="695.34">*</text>
<text class="r" x="394.6" y="728.72">Pdia6</text>
<text class="s" x="455.38" y="728.72">*</text>
<text class="r" x="393.2" y="762.11">Plcg2</text>
<text class="r" x="395.8" y="795.49">Por</text>
<text class="s" x="455.38" y="795.49">*</text>
<text class="r" x="393.1" y="828.88">Ptpn6</text>
<text class="s" x="527.08" y="828.88">*</text>
<text class="r" x="391.7" y="862.26">Samhd1</text>
<text class="r" x="392.8" y="895.65">Anxa1</text>
<text class="r" x="392.6" y="929.03">Anxa2</text>
<text class="r" x="392.6" y="962.42">Anxa3</text>
<text class="r" x="392.7" y="995.80">Galns</text>
<text class="s" x="455.38" y="995.80">*</text>
<text class="s" x="527.08" y="995.80">*</text>
<text class="r" x="395.3" y="1029.19">Grn</text>
<text class="s" x="455.38" y="1029.19">*</text>
<text class="s" x="527.08" y="1029.19">*</text>
<text class="r" x="391.8" y="1062.57">Ifitm3</text>
<text class="s" x="455.38" y="1062.57">****</text>
<text class="s" x="527.08" y="1062.57">****</text>
<text class="r" x="394.4" y="1095.96">Lcp1</text>
<text class="s" x="455.38" y="1095.96">*</text>
<text class="r" x="394.5" y="1129.34">Lrp1</text>
<text class="s" x="527.08" y="1129.34">*</text>
<text class="r" x="395.3" y="1162.73">Npc1</text>
<text class="s" x="455.38" y="1162.73">*</text>
<text class="r" x="394.9" y="1196.11">Pld4</text>
<text class="r" x="394.7" y="1229.50">Psap</text>
<text class="s" x="455.38" y="1229.50">*</text>
<text class="s" x="527.08" y="1229.50">*</text>
<text class="r" x="395.1" y="1262.88">Rab7a</text>
<text class="s" x="527.08" y="1262.88">*</text>
<text class="r" x="390.8" y="1296.27">Tcirg1</text>
<text class="s" x="455.38" y="1296.27">*</text>
<text class="r" x="395.4" y="1329.65">Vim</text>
<text class="s" x="455.38" y="1329.65">*</text>
<text class="r" x="394.8" y="1363.04">Mrc1</text>
<text class="s" x="455.38" y="1363.04">*</text>
<text class="r" x="392.8" y="1396.42">Prdx2</text>
<text class="s" x="455.38" y="1396.42">*</text>
<path class="k" style="stroke-width:1.45" d="M552.90 122.30H577.60V855.00H552.90"/>
<path class="k" style="stroke-width:1.45" d="M552.90 889.90H577.60V1322.20H552.90"/>
<path class="k" style="stroke-width:1.45" d="M552.90 1357.10H577.60V1387.85H552.90"/>
<text class="r" style="font-size:22.1px" x="397.6" y="95.4">IFITM3:</text>
<text class="m" style="font-size:21.7px" x="419.23" y="95.4">WT</text>
<text class="m" style="font-size:21.7px" x="455.08" y="95.4">KO</text>
<text class="m" style="font-size:21.7px" x="490.93" y="95.4">WT</text>
<text class="m" style="font-size:21.7px" x="526.78" y="95.4">KO</text>
<path d="M404.9 67.5H469.5M476.8 67.5H540.7" stroke="#222" stroke-width="1" fill="none"/>
<text class="l" style="font-size:21.7px" transform="translate(436.5,61) rotate(-26.5)">Phagosome</text>
<text class="l" style="font-size:21.7px" transform="translate(508.7,61.2) rotate(-26.5)">Lysosome</text>
<text class="l" style="font-size:21.3px" x="589.9" y="479.2">Hydrolase</text>
<text class="l" style="font-size:21.3px" x="589.9" y="505.7">activity</text>
<text class="l" style="font-size:21.3px" x="589.9" y="1100.7">Fusion &amp;</text>
<text class="l" style="font-size:21.3px" x="589.9" y="1128.3">trafficking</text>
<text class="l" style="font-size:21.3px" x="589.9" y="1351.4">Innate</text>
<text class="l" style="font-size:21.3px" x="589.9" y="1378.6">immune</text>
<text class="l" style="font-size:21.3px" x="589.9" y="1405.1">response</text>
<rect x="404.30" y="1424.5" width="179.10" height="24.1" fill="url(#g)"/>
<rect class="k" style="stroke-width:1.45" x="404.30" y="1424.5" width="179.10" height="24.1"/>
<path d="M493.85 1424.5V1430.7M493.85 1442.7V1448.6" stroke="#000" stroke-width="1.6" fill="none"/>
<text class="r" style="font-size:21.7px" x="394.6" y="1444.7">IFNβ/UT</text>
<text class="m" x="405.1" y="1475.6">0</text>
<text class="m" x="493.9" y="1475.6">1</text>
<text class="m" x="581.2" y="1475.6">&gt;2</text>
</svg></body></html>
